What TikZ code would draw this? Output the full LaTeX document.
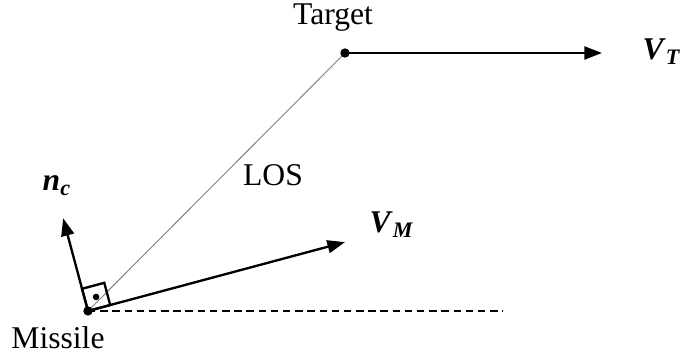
\documentclass[tikz,border=0pt]{standalone}
\usepackage{fontspec}
\setmainfont{Liberation Serif}
\usetikzlibrary{arrows.meta,calc}

\newcommand{\vecsym}[2]{\textbf{\textit{#1}}\textsubscript{\textbf{\textit{#2}}}}

\begin{document}
\begin{tikzpicture}[x=0.015cm, y=0.015cm, >={Triangle[length=7.5pt,width=5.5pt]},
  every node/.style={font=\fontsize{13.5}{16}\selectfont, inner sep=1pt},
  vec/.style={->, line width=1pt},
  losline/.style={gray, line width=0.4pt},
  refline/.style={line width=0.9pt, dash pattern=on 3.2pt off 2pt}]
  \useasboundingbox (0,0) rectangle (681,354);

  \coordinate (missile) at (88,43);
  \coordinate (target) at (345,301);
  \coordinate (vTend) at (602,301);
  \coordinate (vMend) at ($(missile)+(15:266)$);
  \coordinate (ncend) at ($(missile)+(105:96)$);
  \coordinate (refend) at (503,43);

  \draw[refline] (missile) -- (refend);
  \draw[losline] (missile) -- (target);
  \draw[vec] (target) -- (vTend);
  \draw[vec] (missile) -- (vMend);
  \draw[vec] (missile) -- (ncend);

  % right angle mark
  \begin{scope}[shift={(missile)}, rotate=15]
    \draw[line width=1pt] (0,0) rectangle (23,23);
    \fill (11.5,11.5) circle (1.4pt);
  \end{scope}

  \fill (missile) circle (2pt);
  \fill (target) circle (2pt);

  \node (targetlabel) at (333,336) {Target};
  \node (missilelabel) at (58,16) {Missile};
  \node (loslabel) at (273,179) {LOS};
  \node (vTlabel) at (662,302) {\vecsym{V}{T}};
  \node (vMlabel) at (392,129) {\vecsym{V}{M}};
  \node (nclabel) at (57,168) {\vecsym{n}{c}};
\end{tikzpicture}
\end{document}
